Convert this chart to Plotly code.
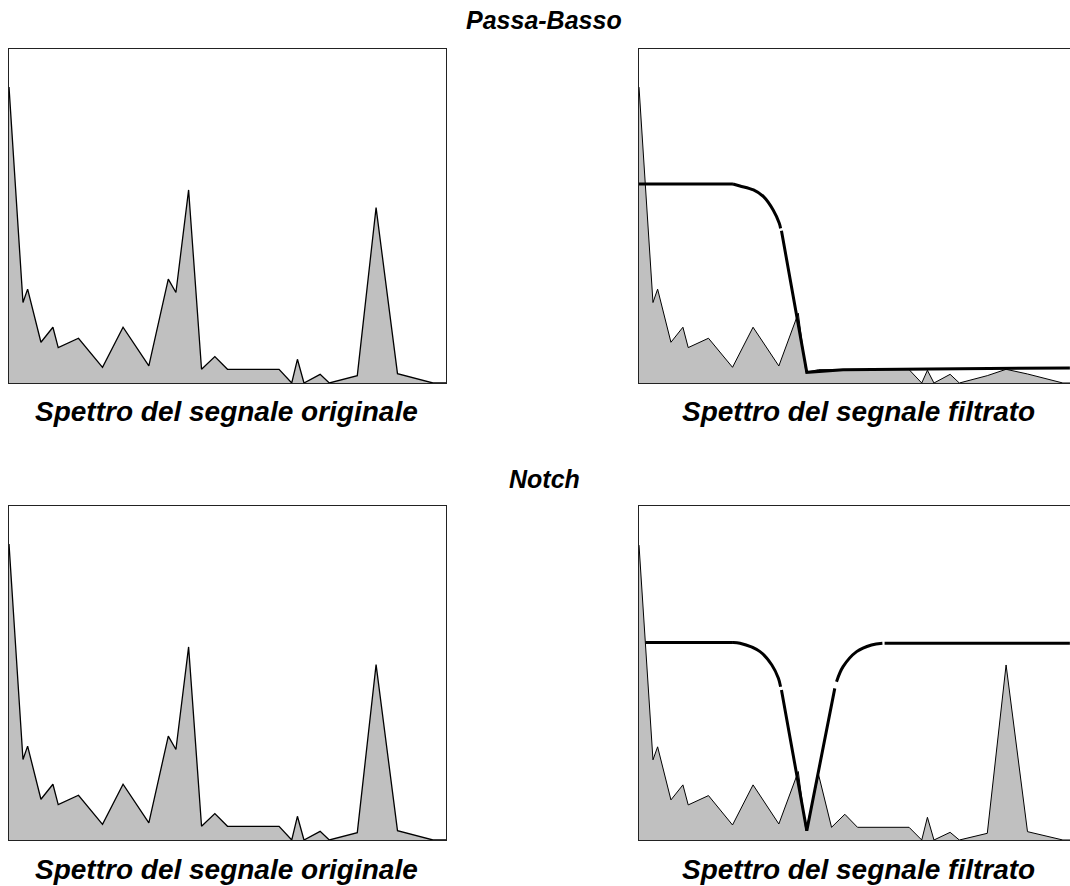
import plotly.graph_objects as go

# ---- data ----
freq = [0, 3.2, 4.26, 7.31, 10.05, 11.26, 15.9, 21.4, 26.1, 32.0, 36.45, 38.2, 41.1,
        44.06, 47.1, 50.0, 61.8, 64.7, 66.0, 67.5, 71.2, 73.3, 79.7, 84.0, 88.9, 97.0, 100]
orig_amp = [88.6, 24.1, 28.1, 12.2, 16.7, 10.6, 13.4, 4.7, 16.7, 5.1, 31.1, 27.1, 57.8,
            4.1, 7.9, 4.1, 4.1, 0, 7.1, 0, 2.6, 0, 2.2, 52.5, 2.8, 0, 0]
lowpass_amp = [88.6, 24.1, 28.1, 12.2, 16.7, 10.6, 13.4, 4.7, 16.7, 5.1, 20.9, 3.2, 4.0,
               4.0, 4.0, 4.0, 4.0, 0, 3.8, 0, 2.6, 0, 2.2, 4.1, 2.7, 0, 0]
notch_amp = [88.3, 24.0, 27.9, 12.0, 16.5, 10.5, 13.3, 4.5, 16.5, 4.8, 20.5, 2.8, 19.5,
             3.8, 7.7, 3.8, 3.8, 0, 6.8, 0, 2.3, 0, 2.0, 52.4, 2.5, 0, 0]

# low-pass response, drawn in pieces
lp_flat_x = [0, 21.5]
lp_flat_y = [59.6, 59.6]
lp_knee_x = [21.5, 23.1, 26.2, 28.5, 30.7, 32.1, 32.4]
lp_knee_y = [59.6, 59.0, 57.8, 55.8, 51.8, 47.8, 46.3]
lp_drop_x = [32.6, 38.4, 46.7, 98.6]
lp_drop_y = [45.6, 3.2, 4.0, 4.5]

# notch response, drawn in pieces
nt_flat1_x = [1.45, 21.5]
nt_flat1_y = [59.1, 59.1]
nt_knee1_x = [21.5, 23.1, 27.7, 30.4, 31.9, 32.4]
nt_knee1_y = [59.1, 58.9, 56.4, 52.4, 48.4, 45.9]
nt_vee_x = [32.6, 38.4, 44.8]
nt_vee_y = [44.9, 2.8, 45.4]
nt_knee2_x = [45.2, 46.7, 49.8, 53.2, 55.7]
nt_knee2_y = [47.4, 51.9, 56.4, 58.4, 58.9]
nt_flat2_x = [56.2, 98.6]
nt_flat2_y = [58.9, 58.9]

titles = ["Passa-Basso", "Notch"]
captions = ["Spettro del segnale originale", "Spettro del segnale filtrato"]

W, H = 1070, 886
FILL = "#c0c0c0"

fig = go.Figure()


def spectrum(x, y, ax, lw):
    fig.add_trace(go.Scatter(x=x, y=y, xaxis="x" + ax, yaxis="y" + ax, mode="lines",
                             fill="tozeroy", fillcolor=FILL,
                             line=dict(color="black", width=lw), hoverinfo="skip"))


def curve(x, y, ax, shape="linear"):
    fig.add_trace(go.Scatter(x=x, y=y, xaxis="x" + ax, yaxis="y" + ax, mode="lines",
                             line=dict(color="black", width=3, shape=shape),
                             hoverinfo="skip"))


spectrum(freq, orig_amp, "", 1.3)
spectrum(freq, lowpass_amp, "2", 1.0)
curve(lp_flat_x, lp_flat_y, "2")
curve(lp_knee_x, lp_knee_y, "2", "spline")
curve(lp_drop_x, lp_drop_y, "2")
spectrum(freq, orig_amp, "3", 1.3)
spectrum(freq, notch_amp, "4", 1.0)
curve(nt_flat1_x, nt_flat1_y, "4")
curve(nt_knee1_x, nt_knee1_y, "4", "spline")
curve(nt_vee_x, nt_vee_y, "4")
curve(nt_knee2_x, nt_knee2_y, "4", "spline")
curve(nt_flat2_x, nt_flat2_y, "4")

# panel geometry in pixels
L_x0, L_x1 = 9, 446
R_x0 = 639
panel_w = L_x1 - L_x0
rows = [(49, 383), (506, 840)]


def xax(domain, rng, mirror=True):
    return dict(domain=domain, range=rng, showgrid=False, zeroline=False,
                showticklabels=False, ticks="", showline=True, linecolor="#222",
                linewidth=1, mirror=mirror, fixedrange=True)


def yax(domain, anchor, mirror=True):
    return dict(domain=domain, range=[0, 100], showgrid=False, zeroline=False,
                showticklabels=False, ticks="", showline=True, linecolor="#222",
                linewidth=1, mirror=mirror, anchor=anchor, fixedrange=True)


right_max = 100 * (W - R_x0) / panel_w
lx = [L_x0 / W, L_x1 / W]
rx = [R_x0 / W, 1.0]
ytop = [1 - rows[0][1] / H, 1 - rows[0][0] / H]
ybot = [1 - rows[1][1] / H, 1 - rows[1][0] / H]

layout = dict(
    width=W, height=H, margin=dict(l=0, r=0, t=0, b=0),
    paper_bgcolor="white", plot_bgcolor="white", showlegend=False,
    xaxis=dict(xax(lx, [0, 100]), anchor="y"),
    yaxis=yax(ytop, "x"),
    xaxis2=dict(xax(rx, [0, right_max]), anchor="y2"),
    yaxis2=yax(ytop, "x2", mirror=False),
    xaxis3=dict(xax(lx, [0, 100]), anchor="y3"),
    yaxis3=yax(ybot, "x3"),
    xaxis4=dict(xax(rx, [0, right_max]), anchor="y4"),
    yaxis4=yax(ybot, "x4", mirror=False),
)
fig.update_layout(**layout)

FONT = "Liberation Sans, Arial, Helvetica, sans-serif"
ann = []
title_y = [20, 479]
cap_y = [411, 869]
for i in range(2):
    ann.append(dict(text="<b><i>%s</i></b>" % titles[i], x=544 / W, y=1 - title_y[i] / H,
                    xref="paper", yref="paper", showarrow=False, xanchor="center",
                    yanchor="middle", font=dict(family=FONT, size=25, color="black")))
    ann.append(dict(text="<b><i>%s</i></b>" % captions[0], x=226 / W, y=1 - cap_y[i] / H,
                    xref="paper", yref="paper", showarrow=False, xanchor="center",
                    yanchor="middle", font=dict(family=FONT, size=28, color="black")))
    ann.append(dict(text="<b><i>%s</i></b>" % captions[1], x=858 / W, y=1 - cap_y[i] / H,
                    xref="paper", yref="paper", showarrow=False, xanchor="center",
                    yanchor="middle", font=dict(family=FONT, size=28, color="black")))
fig.update_layout(annotations=ann)

fig.write_html("out.html", config={"displayModeBar": False},
               post_script="document.body.style.margin='0';document.body.style.overflow='hidden';")
